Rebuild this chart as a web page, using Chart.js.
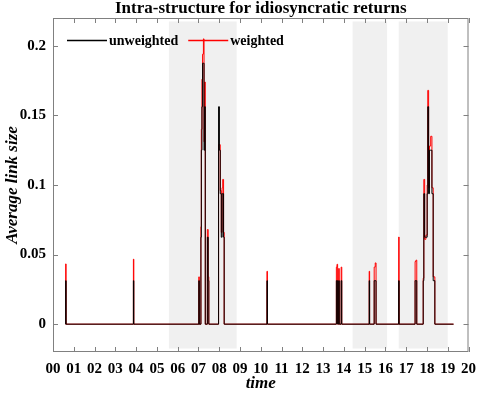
<!DOCTYPE html>
<html><head><meta charset="utf-8">
<script src="https://cdn.jsdelivr.net/npm/chart.js@4"></script>
<style>html,body{margin:0;padding:0;background:#fff}</style>
</head><body>
<canvas id="c" width="484" height="395"></canvas>
<script>
const titleText = 'Intra-structure for idiosyncratic returns';
const seriesNames = ['unweighted', 'weighted'];
const xAxisTitle = 'time';
const yAxisTitle = 'Average link size';
const xTickLabels = ['00','01','02','03','04','05','06','07','08','09','10','11','12','13','14','15','16','17','18','19','20'];
const yTickValues = [0, 0.05, 0.1, 0.15, 0.2];

const times = [0.60,0.61,0.63,3.87,3.89,
  7.02,7.04,7.12,7.14,7.17,7.20,7.24,7.27,7.30,7.33,7.43,7.47,7.50,
  7.97,8.01,8.05,8.10,8.14,8.17,8.21,8.24,
  10.30,10.32,
  13.64,13.67,13.70,13.75,13.78,13.87,13.90,
  15.22,15.24,15.46,15.51,15.55,
  16.64,16.66,
  17.43,17.47,17.51,
  17.82,17.85,17.89,17.95,18.01,18.04,18.08,18.12,18.18,18.24,18.30,18.38,19.28];
const unweighted = [0,0.03125,0,0.03125,0,
  0.03125,0,0.0625,0.125,0.15625,0.1875,0.1875,0.125,0.15625,0,0.0625,0.03125,0,
  0.15625,0.125,0.09375,0.0625,0.09375,0.09375,0.0625,0,
  0.03125,0,
  0.03125,0.03125,0,0.03125,0,0.03125,0,
  0.03125,0,0.03125,0.03125,0,
  0.03125,0,
  0.03125,0.03125,0,
  0.03125,0.09375,0.0625,0.0625,0.09375,0.15625,0.09375,0.125,0.125,0.09375,0.03125,0,0];
const weighted = [0,0.0433,0,0.0467,0,
  0.034,0,0.070,0.140,0.176,0.194,0.205,0.131,0.174,0,0.068,0.034,0,
  0.129,0.129,0.096,0.066,0.098,0.104,0.066,0,
  0.038,0,
  0.041,0.043,0,0.040,0,0.041,0,
  0.038,0,0.041,0.044,0,
  0.0626,0,
  0.045,0.046,0,
  0.033,0.104,0.061,0.064,0.100,0.168,0.098,0.128,0.135,0.098,0.034,0,0];

const shadeStart = [5.58, 14.42, 16.64];
const shadeEnd = [8.84, 16.08, 19.0];
const shadeLow = -0.0175;
const shadeHigh = 0.2175;

const serif = "'Liberation Serif', 'Times New Roman', serif";

const framePlugin = {
  id: 'frame',
  beforeDatasetsDraw(chart) {
    const {ctx, chartArea: a, scales: {x, y}} = chart;
    ctx.save();
    ctx.beginPath();
    ctx.rect(a.left, a.top, a.right - a.left, a.bottom - a.top);
    ctx.clip();
    ctx.fillStyle = '#f0f0f0';
    shadeStart.forEach((s, i) => {
      const x0 = x.getPixelForValue(s), x1 = x.getPixelForValue(shadeEnd[i]);
      const y0 = y.getPixelForValue(shadeHigh), y1 = y.getPixelForValue(shadeLow);
      ctx.fillRect(x0, y0, x1 - x0, y1 - y0);
    });
    ctx.restore();
  },
  afterDatasetsDraw(chart) {
    const {ctx, chartArea: a, scales: {x, y}} = chart;
    ctx.save();
    ctx.strokeStyle = '#808080';
    ctx.lineWidth = 1;
    ctx.strokeRect(a.left + 0.5, a.top + 0.5, a.right - a.left - 1, a.bottom - a.top - 1);
    ctx.beginPath();
    x.ticks.forEach(t => {
      const px = Math.round(x.getPixelForValue(t.value)) + 0.5;
      ctx.moveTo(px, a.bottom); ctx.lineTo(px, a.bottom - 5);
      ctx.moveTo(px, a.top); ctx.lineTo(px, a.top + 5);
    });
    y.ticks.forEach(t => {
      const py = Math.round(y.getPixelForValue(t.value)) + 0.5;
      ctx.moveTo(a.left, py); ctx.lineTo(a.left + 5, py);
      ctx.moveTo(a.right, py); ctx.lineTo(a.right - 5, py);
    });
    ctx.stroke();

    // title, centred over the plot area
    ctx.fillStyle = '#000';
    ctx.font = 'bold 17px ' + serif;
    ctx.textAlign = 'center';
    ctx.textBaseline = 'middle';
    ctx.fillText(titleText, (a.left + a.right) / 2, a.top / 2);

    // legend
    ctx.font = 'bold 14px ' + serif;
    ctx.textBaseline = 'middle';
    ctx.textAlign = 'left';
    let lx = a.left + 14;
    const ly = 40.5;
    chart.data.datasets.forEach(ds => {
      ctx.strokeStyle = ds.borderColor;
      ctx.lineWidth = 1.5;
      ctx.beginPath(); ctx.moveTo(lx, ly); ctx.lineTo(lx + 40, ly); ctx.stroke();
      ctx.fillStyle = '#000';
      ctx.fillText(ds.label, lx + 42, ly + 1);
      lx += 42 + ctx.measureText(ds.label).width + 10;
    });
    ctx.restore();
  }
};

new Chart(document.getElementById('c'), {
  type: 'line',
  data: {
    datasets: [
      {label: seriesNames[0], data: times.map((t, i) => ({x: t, y: unweighted[i]})),
       borderColor: '#000000', borderWidth: 1, pointRadius: 0, stepped: true, fill: false},
      {label: seriesNames[1], data: times.map((t, i) => ({x: t, y: weighted[i]})),
       borderColor: '#ff0000', borderWidth: 1, pointRadius: 0, stepped: true, fill: false}
    ]
  },
  options: {
    responsive: false,
    animation: false,
    devicePixelRatio: 1,
    layout: {padding: {left: 0, right: 8, top: 18, bottom: 0}},
    plugins: {
      legend: {display: false},
      tooltip: {enabled: false},
      title: {display: false}
    },
    scales: {
      x: {
        type: 'linear', min: 0, max: 20,
        grid: {display: false, drawTicks: false},
        border: {display: false},
        afterBuildTicks: s => { s.ticks = xTickLabels.map((_, i) => ({value: i})); },
        ticks: {autoSkip: false, maxRotation: 0, minRotation: 0, padding: 8, color: '#000',
                font: {family: serif, size: 15, weight: 'bold'},
                callback: (v, i) => xTickLabels[i]},
        title: {display: true, text: xAxisTitle, color: '#000', padding: {top: 0, bottom: 3},
                font: {family: serif, size: 17, weight: 'bold', style: 'italic', lineHeight: 1}},
        afterFit: s => { s.height = 43; }
      },
      y: {
        type: 'linear', min: -0.02, max: 0.22,
        grid: {display: false, drawTicks: false},
        border: {display: false},
        afterBuildTicks: s => { s.ticks = yTickValues.map(v => ({value: v})); },
        ticks: {padding: 7, color: '#000', font: {family: serif, size: 15, weight: 'bold'},
                callback: v => String(+Number(v).toFixed(2))},
        title: {display: true, text: yAxisTitle, color: '#000', padding: {top: 4, bottom: 0},
                font: {family: serif, size: 17, weight: 'bold', style: 'italic', lineHeight: 1}},
        afterFit: s => { s.width = 53; }
      }
    }
  },
  plugins: [framePlugin]
});
</script>
</body></html>
